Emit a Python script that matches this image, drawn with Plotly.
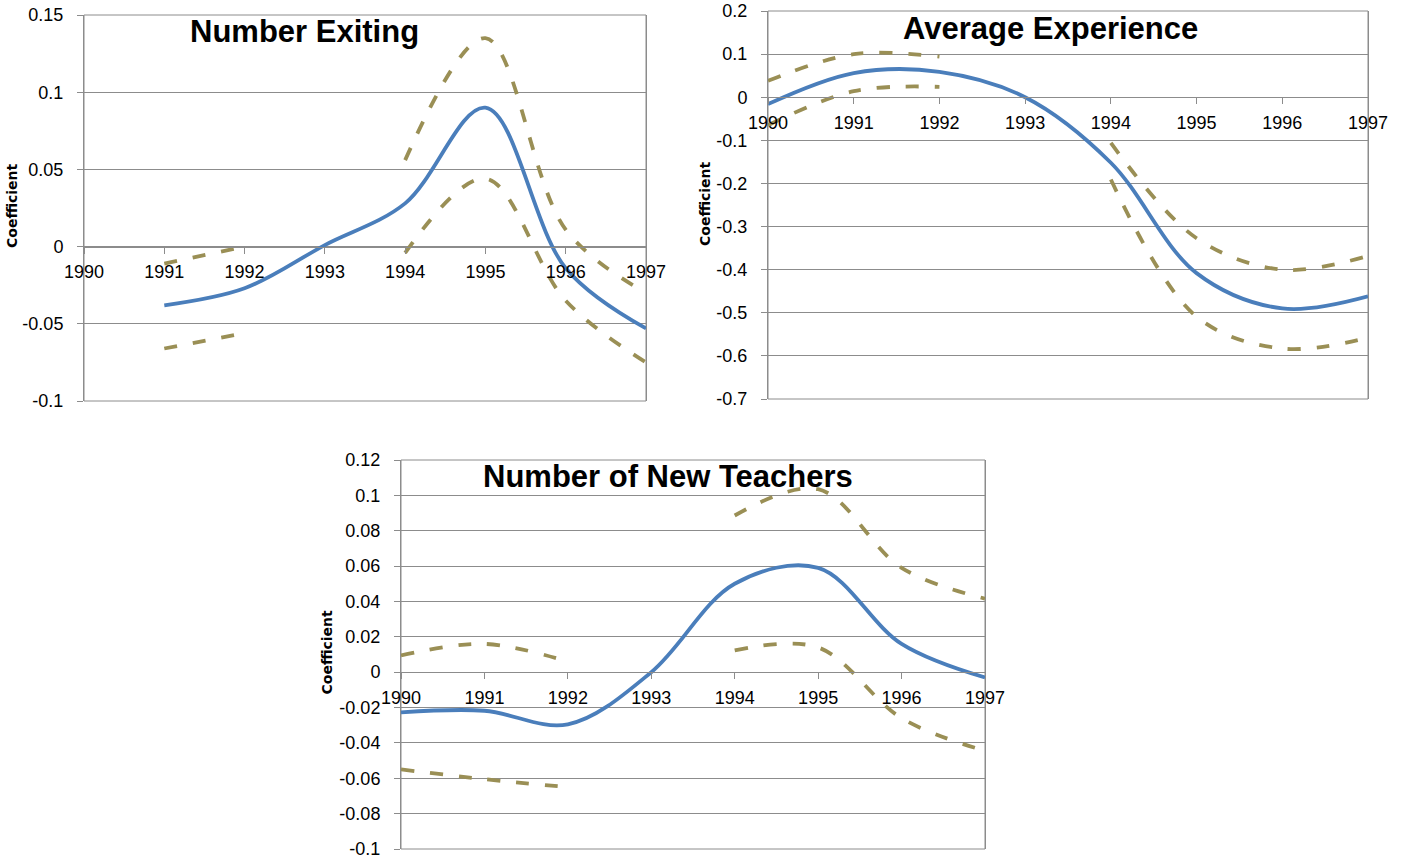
import plotly.graph_objects as go

# ---------------- data ----------------
years_exit = [1991, 1992, 1993, 1994, 1995, 1996, 1997]
exit_coef = [-0.038, -0.027, 0.001, 0.028, 0.090, -0.014, -0.053]
exit_upper = [-0.011, 0.000, None, 0.056, 0.135, 0.011, -0.030]
exit_lower = [-0.066, -0.056, None, -0.004, 0.044, -0.035, -0.075]

years_exp = [1990, 1991, 1992, 1993, 1994, 1995, 1996, 1997]
exp_coef = [-0.016, 0.056, 0.059, 0.0, -0.152, -0.408, -0.490, -0.462]
exp_upper = [0.038, 0.100, 0.094, None, -0.106, -0.327, -0.400, -0.368]
exp_lower = [-0.065, 0.014, 0.024, None, -0.191, -0.509, -0.583, -0.558]

years_new = [1990, 1991, 1992, 1993, 1994, 1995, 1996, 1997]
new_coef = [-0.0227, -0.0218, -0.0295, 0.0, 0.050, 0.059, 0.016, -0.003]
new_upper = [0.0095, 0.016, 0.006, None, 0.0886, 0.1035, 0.059, 0.0416]
new_lower = [-0.055, -0.0605, -0.065, None, 0.0123, 0.014, -0.026, -0.0445]

year_ticks = [1990, 1991, 1992, 1993, 1994, 1995, 1996, 1997]
year_labels = [str(y) for y in year_ticks]

titles = ["Number Exiting", "Average Experience", "Number of New Teachers"]
y_axis_title = "Coefficient"

yticks_exit = [-0.1, -0.05, 0, 0.05, 0.1, 0.15]
ylabels_exit = ["-0.1", "-0.05", "0", "0.05", "0.1", "0.15"]
yticks_exp = [-0.7, -0.6, -0.5, -0.4, -0.3, -0.2, -0.1, 0, 0.1, 0.2]
ylabels_exp = ["-0.7", "-0.6", "-0.5", "-0.4", "-0.3", "-0.2", "-0.1", "0", "0.1", "0.2"]
yticks_new = [-0.1, -0.08, -0.06, -0.04, -0.02, 0, 0.02, 0.04, 0.06, 0.08, 0.1, 0.12]
ylabels_new = ["-0.1", "-0.08", "-0.06", "-0.04", "-0.02", "0", "0.02", "0.04", "0.06", "0.08", "0.1", "0.12"]

# ---------------- style ----------------
W, H = 1402, 858
BLUE = "#4a7ebb"
OLIVE = "#9a8f55"
GRID = "#8c8c8c"
FONT = "Liberation Sans, Arial, sans-serif"

panels = [
    dict(x=years_exit, c=exit_coef, u=exit_upper, l=exit_lower, yt=yticks_exit, yl=ylabels_exit,
         px=(84, 646), py=(15, 401), title=titles[0], tx=304, ty=32, ytx=12),
    dict(x=years_exp, c=exp_coef, u=exp_upper, l=exp_lower, yt=yticks_exp, yl=ylabels_exp,
         px=(768, 1368), py=(11, 399), title=titles[1], tx=1050, ty=28, ytx=705),
    dict(x=years_new, c=new_coef, u=new_upper, l=new_lower, yt=yticks_new, yl=ylabels_new,
         px=(401, 985), py=(460, 849), title=titles[2], tx=668, ty=476, ytx=326),
]


def fx(px):
    return px / W


def fy(py):
    return 1 - py / H


fig = go.Figure()
layout = dict(width=W, height=H, margin=dict(l=0, r=0, t=0, b=0),
              paper_bgcolor="white", plot_bgcolor="white", showlegend=False,
              annotations=[], shapes=[])

for i, p in enumerate(panels, start=1):
    xa = "x" if i == 1 else f"x{i}"
    ya = "y" if i == 1 else f"y{i}"
    for vals, color, dash in [(p["u"], OLIVE, "13px,16px"), (p["l"], OLIVE, "13px,16px"), (p["c"], BLUE, None)]:
        fig.add_trace(go.Scatter(
            x=p["x"], y=vals, mode="lines", xaxis=xa, yaxis=ya,
            connectgaps=False,
            line=dict(color=color, width=3.8, shape="spline", smoothing=1.0,
                      dash=dash if dash else "solid"),
            hoverinfo="skip"))
    xd = [fx(p["px"][0]), fx(p["px"][1])]
    yd = [fy(p["py"][1]), fy(p["py"][0])]
    ymin, ymax = p["yt"][0], p["yt"][-1]
    zero_pos = yd[0] + (0 - ymin) / (ymax - ymin) * (yd[1] - yd[0])
    xkey = "xaxis" if i == 1 else f"xaxis{i}"
    ykey = "yaxis" if i == 1 else f"yaxis{i}"
    layout[xkey] = dict(domain=xd, range=[1990, 1997], anchor="free", position=zero_pos,
                        tickvals=year_ticks, ticktext=year_labels, automargin=False,
                        ticklabeloverflow="allow",
                        showgrid=False, zeroline=False, showline=True, linecolor=GRID, linewidth=1,
                        ticks="outside", ticklen=6, tickcolor=GRID, ticklabelstandoff=3,
                        tickfont=dict(family=FONT, size=18, color="black"))
    layout[ykey] = dict(domain=yd, range=[ymin, ymax], anchor=xa, automargin=False,
                        ticklabeloverflow="allow",
                        tickvals=p["yt"], ticktext=p["yl"],
                        showgrid=True, gridcolor=GRID, gridwidth=1, zeroline=False,
                        showline=True, mirror=True, linecolor=GRID, linewidth=1,
                        ticks="outside", ticklen=6, tickcolor=GRID, ticklabelstandoff=10,
                        tickfont=dict(family=FONT, size=18, color="black"))
    layout["shapes"].append(dict(type="rect", xref=f"{xa} domain", yref=f"{ya} domain",
                                 x0=0, x1=1, y0=0, y1=1, line=dict(color=GRID, width=1),
                                 layer="below"))
    layout["annotations"].append(dict(
        text=f"<b>{p['title']}</b>", x=fx(p["tx"]), y=fy(p["ty"]), xref="paper", yref="paper",
        showarrow=False, xanchor="center", yanchor="middle",
        font=dict(family=FONT, size=31, color="black")))
    yc = (p["py"][0] + p["py"][1]) / 2
    layout["annotations"].append(dict(
        text=f"<b>{y_axis_title}</b>", x=fx(p["ytx"]), y=fy(yc - 2), xref="paper", yref="paper",
        showarrow=False, xanchor="center", yanchor="middle", textangle=-90,
        font=dict(family="DejaVu Sans, sans-serif", size=14, color="black")))

fig.update_layout(**layout)
fig.write_html("out.html", config={"displayModeBar": False},
               post_script="document.body.style.margin='0';document.body.style.overflow='hidden';")
